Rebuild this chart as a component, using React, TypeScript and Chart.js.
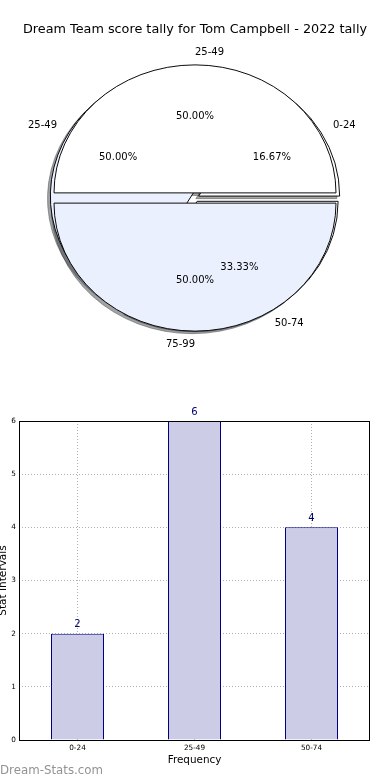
import React, { useEffect, useRef } from 'react';
import Chart from 'chart.js/auto';

// ---------- data ----------
const TITLE = 'Dream Team score tally for Tom Campbell - 2022 tally';
const PIE_A_LABELS = ['25-49', '75-99'];
const PIE_A_VALUES = [1, 1];
const PIE_B_LABELS = ['0-24', '25-49', '50-74'];
const PIE_B_VALUES = [2, 6, 4];
const BAR_CATEGORIES = ['0-24', '25-49', '50-74'];
const BAR_VALUES = [2, 6, 4];
const Y_MIN = 0;
const Y_MAX = 6;
const X_TITLE = 'Frequency';
const Y_TITLE = 'Stat Intervals';
const WATERMARK = 'Dream-Stats.com';

// ---------- style ----------
const FONT = '"DejaVu Sans", sans-serif';
const WHITE = '#ffffff';
const PALE = '#eaf0fd';
const PIE_A_COLORS = [WHITE, PALE];
const PIE_B_COLORS = [WHITE, PALE, WHITE];
const R = 141;
const SY = 128 / 141;
const EXPLODE = [0.04, 0.03]; // dataset 0 = pie A, dataset 1 = pie B
const SHADOW = { dx: -0.02, dy: 0.02 };
const BAR_FILL = '#ccccE6';
const BAR_EDGE = '#000080';
const GRID = '#b0b0b0';

const rev = <T,>(a: T[]) => [...a].reverse();
const PIE_LABELS = [rev(PIE_A_LABELS), rev(PIE_B_LABELS)];

function shade(hex: string) {
  const h = hex.replace('#', '');
  const r = parseInt(h.slice(0, 2), 16) * 0.3;
  const g = parseInt(h.slice(2, 4), 16) * 0.3;
  const b = parseInt(h.slice(4, 6), 16) * 0.3;
  return `rgba(${r.toFixed(0)},${g.toFixed(0)},${b.toFixed(0)},0.5)`;
}

const pieFx = {
  id: 'pieFx',
  afterDatasetsUpdate(chart: any) {
    chart.data.datasets.forEach((_: any, di: number) => {
      chart.getDatasetMeta(di).data.forEach((a: any) => {
        a.innerRadius = 0;
        a.outerRadius = R;
      });
    });
  },
  beforeDatasetsDraw(chart: any) {
    const ctx: CanvasRenderingContext2D = chart.ctx;
    const first = chart.getDatasetMeta(0).data[0];
    const cx = first.x;
    const cy = first.y;
    const order = [1, 0];
    ctx.save();
    ctx.translate(cx, cy);
    ctx.scale(1, SY);
    ctx.translate(-cx, -cy);
    // shadows under every wedge
    for (const di of order) {
      const e = EXPLODE[di];
      chart.getDatasetMeta(di).data.forEach((a: any) => {
        const m = (a.startAngle + a.endAngle) / 2;
        const x = a.x + Math.cos(m) * e * R + SHADOW.dx * R;
        const y = a.y + Math.sin(m) * e * R + SHADOW.dy * R;
        const c = shade(a.options.backgroundColor);
        ctx.beginPath();
        ctx.moveTo(x, y);
        ctx.arc(x, y, a.outerRadius, a.startAngle, a.endAngle);
        ctx.closePath();
        ctx.fillStyle = c;
        ctx.strokeStyle = c;
        ctx.lineWidth = 1;
        ctx.fill();
        ctx.stroke();
      });
    }
    // wedges
    for (const di of order) {
      const e = EXPLODE[di];
      chart.getDatasetMeta(di).data.forEach((a: any) => {
        const m = (a.startAngle + a.endAngle) / 2;
        ctx.save();
        ctx.translate(Math.cos(m) * e * R, Math.sin(m) * e * R);
        a.draw(ctx);
        ctx.restore();
      });
    }
    ctx.restore();
    return false;
  },
  afterDraw(chart: any) {
    const ctx: CanvasRenderingContext2D = chart.ctx;
    ctx.save();
    ctx.font = `10px ${FONT}`;
    ctx.fillStyle = '#000';
    ctx.textBaseline = 'middle';
    [0, 1].forEach((di) => {
      const e = EXPLODE[di];
      const meta = chart.getDatasetMeta(di);
      const vals: number[] = chart.data.datasets[di].data;
      const total = vals.reduce((s, v) => s + v, 0);
      meta.data.forEach((a: any, i: number) => {
        const m = (a.startAngle + a.endAngle) / 2;
        const c = Math.cos(m);
        const s = Math.sin(m);
        // category label
        const lx = a.x + c * (1.1 + e) * R;
        const ly = a.y + s * (1.1 + e) * R * SY;
        let left: boolean;
        if (Math.abs(c) > 1e-6) left = c > 0;
        else left = s < 0;
        ctx.textAlign = left ? 'left' : 'right';
        ctx.fillText(PIE_LABELS[di][i], lx, ly);
        // percentage
        const px = a.x + c * (0.6 + e) * R;
        const py = a.y + s * (0.6 + e) * R * SY;
        ctx.textAlign = 'center';
        ctx.fillText(((vals[i] / total) * 100).toFixed(2) + '%', px, py);
      });
    });
    ctx.restore();
  },
};

const barFx = {
  id: 'barFx',
  afterDatasetsDraw(chart: any) {
    const ctx: CanvasRenderingContext2D = chart.ctx;
    const meta = chart.getDatasetMeta(0);
    const vals: number[] = chart.data.datasets[0].data;
    ctx.save();
    ctx.font = `10px ${FONT}`;
    ctx.fillStyle = '#00006e';
    ctx.textAlign = 'center';
    ctx.textBaseline = 'middle';
    meta.data.forEach((b: any, i: number) => {
      ctx.fillText(String(vals[i]), b.x, b.y - 9);
    });
    ctx.restore();
  },
  afterDraw(chart: any) {
    const ctx: CanvasRenderingContext2D = chart.ctx;
    const { left, right, top, bottom } = chart.chartArea;
    ctx.save();
    ctx.strokeStyle = '#000';
    ctx.lineWidth = 1;
    ctx.strokeRect(left + 0.5, top + 0.5, right - left - 1, bottom - top);
    ctx.font = `11.8px ${FONT}`;
    ctx.fillStyle = '#939393';
    ctx.textAlign = 'left';
    ctx.textBaseline = 'middle';
    ctx.fillText(WATERMARK, 0, chart.height - 9.5);
    ctx.restore();
  },
};

export default function App() {
  const pieRef = useRef<HTMLCanvasElement>(null);
  const barRef = useRef<HTMLCanvasElement>(null);

  useEffect(() => {
    const pie = new Chart(pieRef.current as HTMLCanvasElement, {
      type: 'pie',
      data: {
        labels: PIE_LABELS[1],
        datasets: [
          {
            data: rev(PIE_A_VALUES),
            backgroundColor: rev(PIE_A_COLORS),
            borderColor: '#000',
            borderWidth: 1,
            hoverOffset: 0,
          },
          {
            data: rev(PIE_B_VALUES),
            backgroundColor: rev(PIE_B_COLORS),
            borderColor: '#000',
            borderWidth: 1,
            hoverOffset: 0,
          },
        ],
      },
      options: {
        responsive: false,
        maintainAspectRatio: false,
        animation: false,
        devicePixelRatio: 1,
        events: [],
        rotation: 90,
        radius: R,
        layout: { padding: { top: 0, bottom: 19.36, left: 0, right: 0 } },
        plugins: {
          legend: { display: false },
          tooltip: { enabled: false },
          title: {
            display: true,
            text: TITLE,
            color: '#000',
            font: { family: FONT, size: 12.8, weight: 'normal' },
            padding: { top: 22, bottom: 8 },
          },
        },
      } as any,
      plugins: [pieFx as any],
    });

    const bar = new Chart(barRef.current as HTMLCanvasElement, {
      type: 'bar',
      data: {
        labels: BAR_CATEGORIES,
        datasets: [
          {
            data: BAR_VALUES,
            backgroundColor: BAR_FILL,
            borderColor: BAR_EDGE,
            borderWidth: 1,
            inflateAmount: 0,
            barPercentage: 53 / 117,
            categoryPercentage: 1,
          },
        ],
      },
      options: {
        responsive: false,
        maintainAspectRatio: false,
        animation: false,
        devicePixelRatio: 1,
        events: [],
        layout: { padding: { top: 31, right: 20, left: 0, bottom: 0 } },
        plugins: { legend: { display: false }, tooltip: { enabled: false } },
        scales: {
          x: {
            z: 1,
            grid: { display: true, offset: false, color: GRID, lineWidth: 1, drawTicks: false },
            border: { display: false, dash: [1, 2] },
            ticks: { color: '#000', font: { family: FONT, size: 7.3 }, padding: 3.5 },
            title: {
              display: true,
              text: X_TITLE,
              color: '#000',
              font: { family: FONT, size: 10.4 },
              padding: { top: 0, bottom: 13.3 },
            },
            afterFit: (s: any) => {
              s.height = 40;
            },
          },
          y: {
            z: 1,
            min: Y_MIN,
            max: Y_MAX,
            grid: { color: GRID, lineWidth: 1, drawTicks: false },
            border: { display: false, dash: [1, 2] },
            ticks: { stepSize: 1, color: '#000', font: { family: FONT, size: 7.3 }, padding: 3 },
            title: {
              display: true,
              text: Y_TITLE,
              color: '#000',
              font: { family: FONT, size: 10.5, lineHeight: 0.6 },
              padding: { top: 0, bottom: 0 },
            },
            afterFit: (s: any) => {
              s.width = 19;
            },
          },
        },
      } as any,
      plugins: [barFx as any],
    });

    return () => {
      pie.destroy();
      bar.destroy();
    };
  }, []);

  return (
    <div style={{ position: 'absolute', left: 0, top: 0, width: 390, height: 780, background: '#fff' }}>
      <canvas
        ref={pieRef}
        width={390}
        height={370}
        style={{ position: 'absolute', left: 0, top: 0, width: 390, height: 370 }}
      />
      <canvas
        ref={barRef}
        width={390}
        height={390}
        style={{ position: 'absolute', left: 0, top: 390, width: 390, height: 390 }}
      />
    </div>
  );
}
